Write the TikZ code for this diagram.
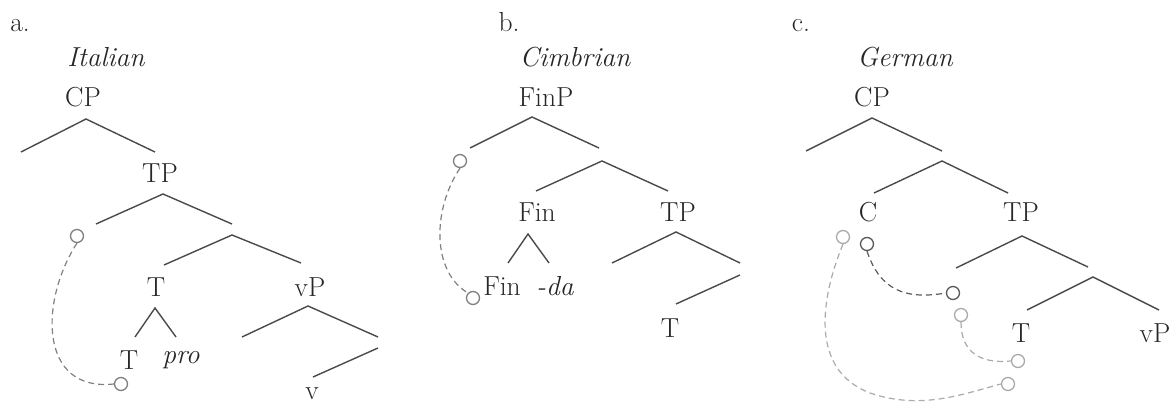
\documentclass[tikz,border=0pt]{standalone}
\definecolor{txt}{HTML}{262626}
\definecolor{ln}{HTML}{4A4A4A}
\definecolor{md}{HTML}{808080}
\definecolor{dk}{HTML}{5A5A5A}
\definecolor{lt}{HTML}{AAAAAA}
\begin{document}
\begin{tikzpicture}[x=1pt,y=-1pt,
  lbl/.style={anchor=base, inner sep=0pt, text=txt, font=\fontsize{27.5}{32}\selectfont},
  ilbl/.style={lbl, font=\fontsize{27.5}{32}\selectfont\itshape},
  br/.style={draw=ln, line width=1.4pt},
  trc/.style={circle, draw=md, line width=1.3pt, minimum size=13pt, inner sep=0pt},
  dtrc/.style={trc, draw=dk},
  ltrc/.style={trc, draw=lt},
  dsh/.style={draw=md, line width=1.2pt, dash pattern=on 6pt off 4pt},
  ddsh/.style={dsh, draw=dk},
  ldsh/.style={dsh, draw=lt}]
\useasboundingbox (0,0) rectangle (1175,403);

% ---------------- Panel a ----------------
\node[lbl] (alab) at (20,32) {a.};
\node[ilbl] (aital) at (106,67) {Italian};
\node[lbl] (aCP) at (83,107) {CP};
\node[lbl] (aTP) at (160,183) {TP};
\node[lbl] (aT) at (156,297) {T};
\node[lbl] (avP) at (310,297) {vP};
\node[lbl] (aT2) at (129,369) {T};
\node[ilbl] (apro) at (181,363) {pro};
\node[lbl] (av) at (312,399.5) {v};
\coordinate (a1) at (86,119); \coordinate (a1l) at (21,152); \coordinate (a1r) at (155,152);
\coordinate (a2) at (163,194); \coordinate (a2l) at (96,224); \coordinate (a2r) at (232,224);
\coordinate (a3) at (232,235); \coordinate (a3l) at (164,265); \coordinate (a3r) at (301,263);
\coordinate (a4) at (155,308); \coordinate (a4l) at (135,337); \coordinate (a4r) at (176,337);
\coordinate (a5) at (308,306); \coordinate (a5l) at (242,337); \coordinate (a5r) at (378,337);
\coordinate (a6) at (378,348); \coordinate (a6l) at (313,377);
\draw[br] (a1l) -- (a1) -- (a1r);
\draw[br] (a2l) -- (a2) -- (a2r);
\draw[br] (a3l) -- (a3) -- (a3r);
\draw[br] (a4l) -- (a4) -- (a4r);
\draw[br] (a5l) -- (a5) -- (a5r);
\draw[br] (a6) -- (a6l);
\node[trc] (ac1) at (77,236) {};
\node[trc] (ac2) at (121,384) {};
\draw[dsh] (ac1.south) .. controls (40,300) and (38,392) .. (ac2.west);

% ---------------- Panel b ----------------
\node[lbl] (blab) at (509,32) {b.};
\node[ilbl] (bcim) at (575,67) {Cimbrian};
\node[lbl] (bFinP) at (546,107) {FinP};
\node[lbl] (bFin) at (537,222) {Fin};
\node[lbl] (bTP) at (678,222) {TP};
\node[lbl] (bFin2) at (502,295) {Fin};
\node[ilbl] (bda) at (555,295) {-da};
\node[lbl] (bT) at (670,337) {T};
\coordinate (b1) at (532,117); \coordinate (b1l) at (470,148); \coordinate (b1r) at (599,148);
\coordinate (b2) at (602,161); \coordinate (b2l) at (536,191); \coordinate (b2r) at (668,191);
\coordinate (b3) at (528,234); \coordinate (b3l) at (508,263); \coordinate (b3r) at (549,263);
\coordinate (b4) at (676,232); \coordinate (b4l) at (612,263); \coordinate (b4r) at (740,263);
\coordinate (b5) at (740,275); \coordinate (b5l) at (676,304);
\draw[br] (b1l) -- (b1) -- (b1r);
\draw[br] (b2l) -- (b2) -- (b2r);
\draw[br] (b3l) -- (b3) -- (b3r);
\draw[br] (b4l) -- (b4) -- (b4r);
\draw[br] (b5) -- (b5l);
\node[trc] (bc1) at (460,161) {};
\node[trc] (bc2) at (473,298) {};
\draw[dsh] (bc1.south) .. controls (432,210) and (432,272) .. (bc2.north west);

% ---------------- Panel c ----------------
\node[lbl] (clab) at (801,32) {c.};
\node[ilbl] (cger) at (905,67) {German};
\node[lbl] (cCP) at (872,107) {CP};
\node[lbl] (cC) at (868,222) {C};
\node[lbl] (cTP) at (1021,222) {TP};
\node[lbl] (cT) at (1021,342) {T};
\node[lbl] (cvP) at (1155,342) {vP};
\coordinate (c1) at (872,118); \coordinate (c1l) at (806,151); \coordinate (c1r) at (942,151);
\coordinate (c2) at (942,161); \coordinate (c2l) at (874,193); \coordinate (c2r) at (1008,193);
\coordinate (c3) at (1022,236); \coordinate (c3l) at (956,268); \coordinate (c3r) at (1088,267);
\coordinate (c4) at (1093,277); \coordinate (c4l) at (1027,310); \coordinate (c4r) at (1159,310);
\draw[br] (c1l) -- (c1) -- (c1r);
\draw[br] (c2l) -- (c2) -- (c2r);
\draw[br] (c3l) -- (c3) -- (c3r);
\draw[br] (c4l) -- (c4) -- (c4r);
\node[ltrc] (cc1) at (843,237) {};
\node[dtrc] (cc2) at (867,244) {};
\node[dtrc] (cc3) at (953,293) {};
\node[ltrc] (cc4) at (961,315) {};
\node[ltrc] (cc5) at (1018,361) {};
\node[ltrc] (cc6) at (1008,384) {};
\draw[ddsh] (cc2.south) .. controls (880,290) and (905,300) .. (cc3.west);
\draw[ldsh] (cc4.south) .. controls (961,352) and (980,364) .. (cc5.west);
\draw[ldsh] (cc1.south) .. controls (820,300) and (810,370) .. (870,393)
  .. controls (920,410) and (960,395) .. (cc6.west);
\end{tikzpicture}
\end{document}
